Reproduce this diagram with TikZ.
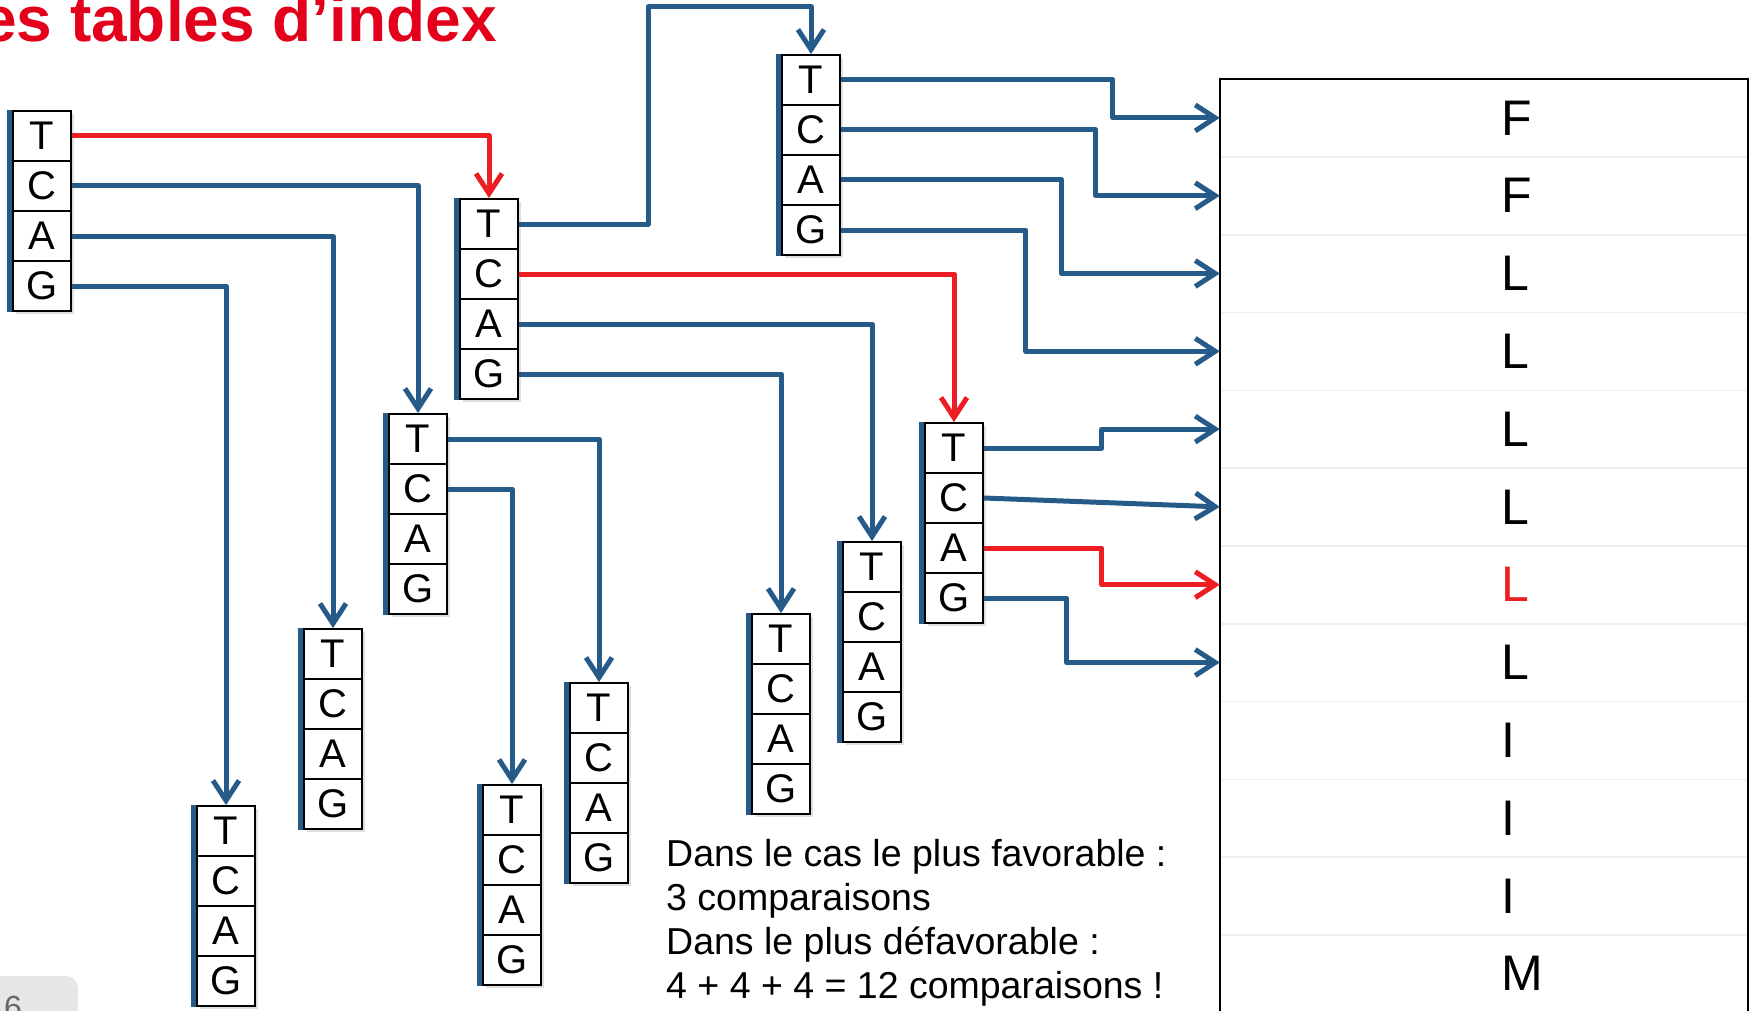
\documentclass[tikz,border=0pt]{standalone}
\usepackage{fontspec}
\setmainfont{Liberation Sans}
\usetikzlibrary{positioning,arrows.meta,calc,shadows}
\definecolor{linkblue}{RGB}{38,90,136}
\definecolor{hotred}{RGB}{236,30,36}
\definecolor{titlered}{RGB}{226,0,26}
\definecolor{sepgray}{RGB}{238,238,238}
\definecolor{tabgray}{RGB}{230,230,230}
\tikzset{
  cell/.style={draw, line width=1.8pt, fill=white, minimum width=58pt, minimum height=50pt,
    inner sep=0pt, font=\fontsize{40}{42}\selectfont,
    drop shadow={shadow xshift=2.5pt, shadow yshift=-3pt, opacity=0.25}},
  cellbar/.style={draw=linkblue, line width=5pt},
  link/.style={draw=linkblue, line width=5pt, line join=round,
    -{Straight Barb[length=20pt, width=26pt]}},
  hotlink/.style={link, draw=hotred},
  tablerow/.style={minimum width=528pt, minimum height=77.8pt, inner sep=0pt},
  tableletter/.style={anchor=west, inner sep=0pt, font=\fontsize{50}{52}\selectfont},
  title/.style={anchor=base west, inner sep=0pt, text=titlered, font=\fontsize{64}{70}\selectfont\bfseries},
  note/.style={align=left, inner sep=0pt, font=\fontsize{37.5}{44}\selectfont},
  pagenum/.style={anchor=base west, inner sep=0pt, text=black!60, font=\fontsize{32}{34}\selectfont},
}

\begin{document}
\begin{tikzpicture}[x=1pt, y=-1pt]
  \useasboundingbox (0,0) rectangle (1752,1011);
  \node[title] (title) at (-19,42) {es tables d’index};

  % piles T/C/A/G
  \foreach \s/\x/\y in {a/13/111, b/460/199, c/782/55, d/925/423, e/389/414,
                        f/304/629, g/197/806, h/483/785, i/570/683, j/752/614, k/843/542} {
    \foreach \l [count=\n from 0] in {T,C,A,G}
      \node[cell] (\s-\l) at (\x+29, \y+25+50*\n) {\l};
    \draw[cellbar] ([xshift=-2.5pt]\s-T.north west) -- ([xshift=-2.5pt]\s-G.south west);
  }

  % table des acides amines
  \foreach \l/\col [count=\n] in {F/black, F/black, L/black, L/black, L/black, L/black,
                                  L/hotred, L/black, I/black, I/black, I/black, M/black} {
    \node[tablerow] (r\n) at (1484, 79+77.8*\n-38.9) {};
    \node[tableletter, text=\col] (letter\n) at ($(r\n.west)+(281,0)$) {\l};
  }
  \foreach \n in {1,...,11}
    \draw[sepgray, line width=1.5pt] (r\n.south west) -- (r\n.south east);
  \draw[line width=2.2pt] (r1.north west) rectangle ([yshift=-5pt]r12.south east);

  % premier niveau
  \draw[hotlink] (a-T.east) -| (b-T.north);
  \draw[link] (a-C.east) -| (e-T.north);
  \draw[link] (a-A.east) -| (f-T.north);
  \draw[link] (a-G.east) -| (g-T.north);
  % deuxieme niveau
  \coordinate (overpass) at (648,7);
  \draw[link] (b-T.east) -| (overpass) -| (c-T.north);
  \draw[hotlink] (b-C.east) -| (d-T.north);
  \draw[link] (b-A.east) -| (k-T.north);
  \draw[link] (b-G.east) -| (j-T.north);
  \draw[link] (e-T.east) -| (i-T.north);
  \draw[link] (e-C.east) -| (h-T.north);
  % troisieme niveau, vers la table
  \foreach \from/\to/\dx in {c-T/r1/107, c-C/r2/124, c-A/r3/158, c-G/r4/194, d-T/r5/118, d-G/r8/153}
    \draw[link] (\from.east) -| ($(\to.west)+(-\dx,0)$) -- (\to.west);
  \draw[link] (d-C.east) -- (r6.west);
  \draw[hotlink] (d-A.east) -| ($(r7.west)+(-118,0)$) -- (r7.west);

  \node[note, anchor=north west] (note) at (666,839)
    {Dans le cas le plus favorable :\\3 comparaisons\\Dans le plus défavorable :\\4 + 4 + 4 = 12 comparaisons !};

  \fill[tabgray, rounded corners=12pt] (-20,976) rectangle (78,1040);
  \node[pagenum] (page) at (4,1018) {6};
\end{tikzpicture}
\end{document}
